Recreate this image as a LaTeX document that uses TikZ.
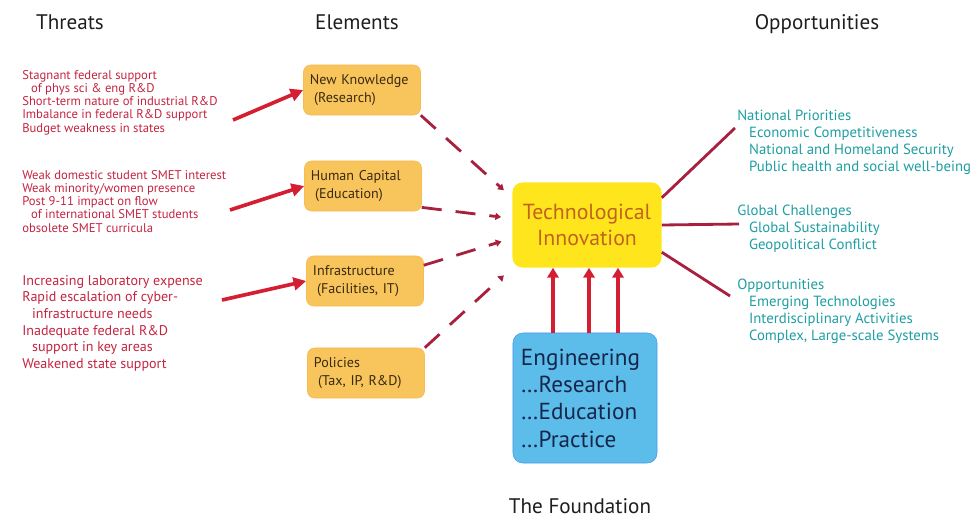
\documentclass[tikz,border=0pt]{standalone}
\usepackage{fontspec}
\setmainfont{PT Sans}
\usetikzlibrary{arrows.meta, positioning}
\definecolor{tred}{HTML}{C42440}
\definecolor{ared}{HTML}{D41E32}
\definecolor{dred}{HTML}{A8203E}
\definecolor{hgray}{HTML}{1E1E1E}
\definecolor{elfill}{HTML}{F8C45C}
\definecolor{eltext}{HTML}{3A2A10}
\definecolor{tifill}{HTML}{FFE61C}
\definecolor{titext}{HTML}{C2621E}
\definecolor{enfill}{HTML}{5CBDEA}
\definecolor{entext}{HTML}{16264A}
\definecolor{oteal}{HTML}{1E9EA2}
\tikzset{
  head/.style={font=\fontsize{15}{17}\selectfont, text=hgray},
  threat/.style={anchor=north west, align=left, inner sep=0pt, text=tred,
                 font=\fontsize{9}{9.4}\selectfont},
  opp/.style={anchor=north west, align=left, inner sep=0pt, text=oteal,
              font=\fontsize{10.5}{12}\selectfont},
  elbox/.style={fill=elfill, draw=elfill!85!orange, rounded corners=5pt,
                minimum width=2.925cm, minimum height=1.25cm, text width=2.6cm,
                align=left, text=eltext, font=\fontsize{10}{12.8}\selectfont},
  techbox/.style={fill=tifill, rounded corners=7pt, minimum width=3.725cm,
                  minimum height=2.125cm, align=center, text=titext,
                  font=\fontsize{15.5}{18.5}\selectfont},
  engbox/.style={fill=enfill, draw=enfill!80!blue, rounded corners=7pt,
                 minimum width=3.6cm, minimum height=3.25cm, text width=3.2cm,
                 align=left, text=entext, font=\fontsize{16.5}{19.4}\selectfont},
  tarr/.style={-{Triangle[length=9pt, width=9pt]}, line width=2.6pt, ared},
  darr/.style={-{Triangle[length=4pt, width=5pt]}, line width=2pt, dred,
               dash pattern=on 0.5cm off 0.35cm, shorten >=8pt},
  uarr/.style={-{Triangle[length=7pt, width=8pt]}, line width=2.6pt, ared},
  oline/.style={line width=2pt, dred},
}
\begin{document}
\begin{tikzpicture}[x=0.025cm, y=-0.025cm]
  \useasboundingbox (0,0) rectangle (973,520);

  % headings
  \node[head] (hthr) at (70,22) {Threats};
  \node[head] (hele) at (357,22) {Elements};
  \node[head] (hopp) at (817,24) {Opportunities};
  \node[head] (hfnd) at (580,506) {The Foundation};

  % threats
  \node[threat] (t1) at (22,70) {Stagnant federal support\\
    \hspace{0.7em}of phys sci \& eng R\&D\\
    Short-term nature of industrial R\&D\\
    Imbalance in federal R\&D support\\
    Budget weakness in states};
  \node[threat] (t2) at (22,170) {Weak domestic student SMET interest\\
    Weak minority/women presence\\
    Post 9-11 impact on flow\\
    \hspace{0.7em}of international SMET students\\
    obsolete SMET curricula};
  \node[threat, font=\fontsize{10}{11.8}\selectfont] (t3) at (22,275) {Increasing laboratory expense\\
    Rapid escalation of cyber-\\
    \hspace{0.7em}infrastructure needs\\
    Inadequate federal R\&D\\
    \hspace{0.7em}support in key areas\\
    Weakened state support};

  % elements
  \node[elbox] (nk) at (362,90) {New Knowledge\\\hspace{0.3em}(Research)};
  \node[elbox] (hc) at (363,186) {Human Capital\\\hspace{0.3em}(Education)};
  \node[elbox] (inf) at (365,281) {Infrastructure\\\hspace{0.3em}(Facilities, IT)};
  \node[elbox] (pol) at (366,373) {Policies\\\hspace{0.3em}(Tax, IP, R\&D)};

  % centre
  \node[techbox] (tech) at (587,225) {Technological\\Innovation};
  \node[engbox] (eng) at (585,398) {Engineering\\\ldots Research\\\ldots Education\\\ldots Practice};

  % opportunities
  \node[opp] (o1) at (737,110) {National Priorities\\
    \hspace{0.8em}Economic Competitiveness\\
    \hspace{0.8em}National and Homeland Security\\
    \hspace{0.8em}Public health and social well-being};
  \node[opp] (o2) at (737,205) {Global Challenges\\
    \hspace{0.8em}Global Sustainability\\
    \hspace{0.8em}Geopolitical Conflict};
  \node[opp] (o3) at (737,279) {Opportunities\\
    \hspace{0.8em}Emerging Technologies\\
    \hspace{0.8em}Interdisciplinary Activities\\
    \hspace{0.8em}Complex, Large-scale Systems};

  \coordinate (a1) at (233,120);
  \coordinate (a2) at (230,210);
  \coordinate (a3) at (222,300);
  \coordinate (e1) at (735,128);
  \coordinate (e2) at (739,224);
  \coordinate (e3) at (730,296);

  \draw[tarr] (a1) -- (nk.west);
  \draw[tarr] (a2) -- (hc.west);
  \draw[tarr] (a3) -- (inf.west);

  \draw[darr] (nk.south east) -- (tech.160);
  \draw[darr] (hc.-20) -- (tech.175);
  \draw[darr] (inf.15) -- (tech.190);
  \draw[darr] (pol.north east) -- (tech.south west);

  \draw[uarr] ([xshift=-0.8cm]eng.north) -- ([xshift=-0.8cm]eng.north |- tech.south);
  \draw[uarr] ([xshift=0.1cm]eng.north) -- ([xshift=0.1cm]eng.north |- tech.south);
  \draw[uarr] ([xshift=0.825cm]eng.north) -- ([xshift=0.825cm]eng.north |- tech.south);

  \draw[oline] (tech.20) -- (e1);
  \draw[oline] (tech.east) -- (e2);
  \draw[oline] (tech.-20) -- (e3);
\end{tikzpicture}
\end{document}
